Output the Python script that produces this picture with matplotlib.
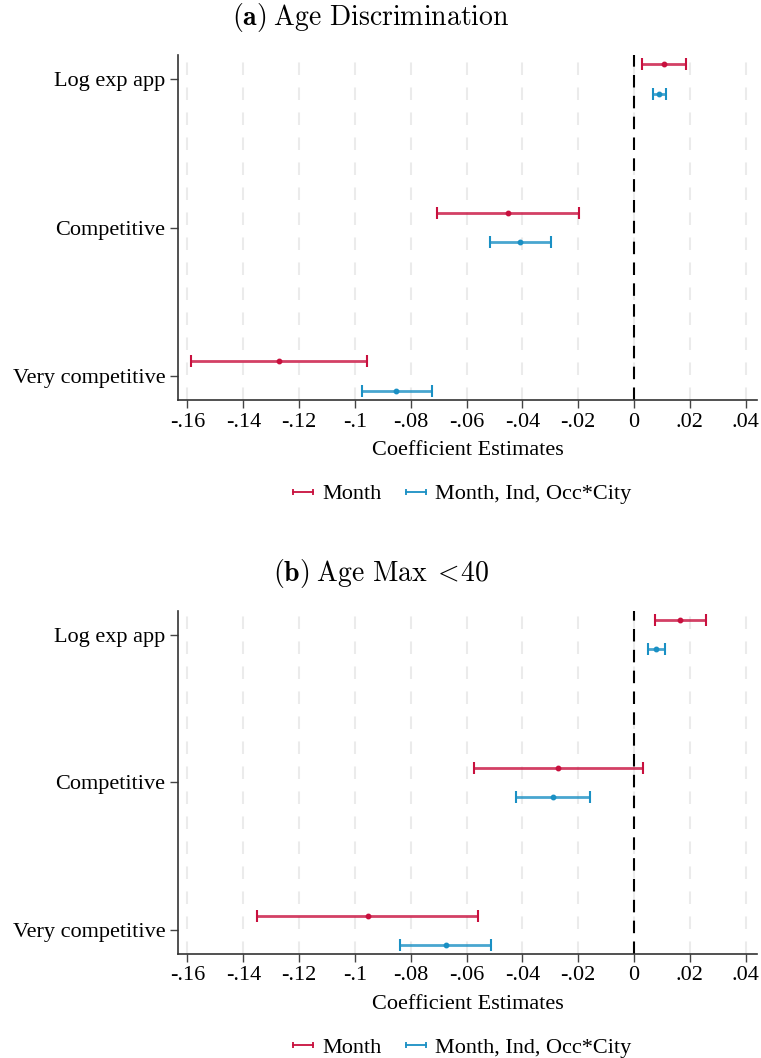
import numpy as np
import matplotlib.pyplot as plt
from matplotlib.lines import Line2D

plt.rcParams['mathtext.fontset'] = 'cm'
plt.rcParams['font.family'] = ['Liberation Serif', 'DejaVu Serif']

categories = ['Log exp app', 'Competitive', 'Very competitive']
series_names = ['Month', 'Month, Ind, Occ*City']
colors = ['#c8103e', '#1a90c4']

# panel (a) Age Discrimination: point estimate, lower CI, upper CI
a_month_est = [0.0108, -0.0452, -0.1273]
a_month_lo = [0.0029, -0.0705, -0.1589]
a_month_hi = [0.0188, -0.0197, -0.0958]
a_fe_est = [0.0090, -0.0407, -0.0851]
a_fe_lo = [0.0068, -0.0516, -0.0976]
a_fe_hi = [0.0116, -0.0298, -0.0724]

# panel (b) Age Max <40
b_month_est = [0.0165, -0.0271, -0.0953]
b_month_lo = [0.0074, -0.0573, -0.1352]
b_month_hi = [0.0257, 0.0031, -0.0558]
b_fe_est = [0.0078, -0.0291, -0.0675]
b_fe_lo = [0.0049, -0.0422, -0.0840]
b_fe_hi = [0.0110, -0.0158, -0.0512]

xticks = [-0.16, -0.14, -0.12, -0.10, -0.08, -0.06, -0.04, -0.02, 0.0, 0.02, 0.04]
xticklabels = ['-.16', '-.14', '-.12', '-.1', '-.08', '-.06', '-.04', '-.02', '0', '.02', '.04']

panels = [
    (r'$\mathbf{(a)}$ $\mathrm{Age\ Discrimination}$',
     [(a_month_est, a_month_lo, a_month_hi), (a_fe_est, a_fe_lo, a_fe_hi)]),
    (r'$\mathbf{(b)}$ $\mathrm{Age\ Max}$ $<\!\mathrm{40}$',
     [(b_month_est, b_month_lo, b_month_hi), (b_fe_est, b_fe_lo, b_fe_hi)]),
]

fig = plt.figure(figsize=(7.61, 10.58), dpi=100)
axes_pos = [[0.2339, 0.6219, 0.7608, 0.3261],
            [0.2339, 0.0983, 0.7608, 0.3242]]
title_xy = [(371 / 761, 1 - 17 / 1058), (381 / 761, 1 - 574 / 1058)]
offsets = [-0.1, 0.1]
ypos = np.arange(len(categories))
fs = 16

for pos, (tx, ty), (title, series) in zip(axes_pos, title_xy, panels):
    ax = fig.add_axes(pos)
    for xt in xticks:
        ax.axvline(xt, color='#ebebeb', lw=1.5, dashes=(6, 6), zorder=0)
    ax.axvline(0, color='black', lw=1.5, dashes=(6, 4), zorder=1)

    for (est, lo, hi), off, c in zip(series, offsets, colors):
        est = np.array(est)
        err = [est - np.array(lo), np.array(hi) - est]
        eb = ax.errorbar(est, ypos + off, xerr=err, fmt='o', ms=3.2, color=c,
                         ecolor=c, elinewidth=2, capsize=4, capthick=1.5, zorder=3)
        for lc in eb[2]:
            lc.set_alpha(0.8)

    ax.set_xlim(-0.1634, 0.0441)
    ax.set_ylim(2.16, -0.16)
    ax.set_yticks(ypos)
    ax.set_yticklabels(categories)
    ax.set_xticks(xticks)
    ax.set_xticklabels(xticklabels)
    ax.tick_params(axis='both', labelsize=fs, length=6, width=1, color='#444444',
                   direction='out', pad=3)
    for side in ['top', 'right']:
        ax.spines[side].set_visible(False)
    for side in ['left', 'bottom']:
        ax.spines[side].set_color('#333333')
        ax.spines[side].set_linewidth(1.2)
    ax.set_xlabel('Coefficient Estimates', fontsize=fs, labelpad=7)
    fig.text(tx, ty, title, fontsize=20, ha='center', va='center')

    handles = [Line2D([], [], color=c, lw=1.3, marker='|', ms=5, mew=1.3) for c in colors]
    ax.legend(handles, series_names, loc='upper center', bbox_to_anchor=(0.485, -0.185),
              ncol=2, frameon=False, fontsize=fs, numpoints=2, handlelength=1.5,
              handletextpad=0.12, columnspacing=0.82)

fig.savefig('out.png', dpi=100)
